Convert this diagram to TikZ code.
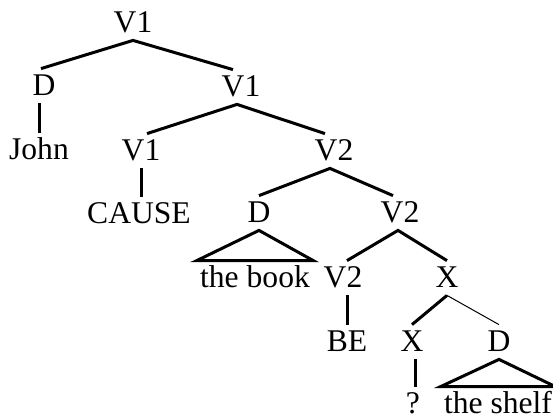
\documentclass[tikz,border=0pt]{standalone}
\usepackage{fontspec}
\setmainfont{Liberation Serif}
\begin{document}
\begin{tikzpicture}[x=0.5pt, y=-0.5pt,
    every node/.style={anchor=base, inner xsep=1.5pt, inner ysep=2.5pt,
      text height=10.5pt, text depth=1.5pt, font=\fontsize{15.8}{18}\selectfont},
    branch/.style={line width=1.5pt},
    thinbranch/.style={line width=0.5pt}]
  \useasboundingbox (0,0) rectangle (553,419);
  % Place the nodes
  \node (v1top) at (133,32) {V1};
  \node (d1) at (44,95) {D};
  \node (v1b) at (241,96) {V1};
  \node (john) at (39,159) {John};
  \node (v1c) at (141,160) {V1};
  \node (v2a) at (334,160) {V2};
  \node (cause) at (139,223) {CAUSE};
  \node (da) at (259,222) {D};
  \node (v2b) at (400,222) {V2};
  \node (book) at (255,287) {the book};
  \node (v2c) at (343,287) {V2};
  \node (xa) at (447,287) {X};
  \node (be) at (347,351) {BE};
  \node (xb) at (412,351) {X};
  \node (db) at (499,351) {D};
  \node (q) at (413,413) {?};
  \node (shelf) at (498,413) {the shelf};
  % Draw the branches
  \draw[branch] ([xshift=-1.5pt]d1.north) -- (v1top.south) -- ([xshift=-4pt]v1b.north);
  \draw[branch] (d1.south -| john.north) -- (john.north);
  \draw[branch] ([xshift=3pt]v1c.north) -- ([xshift=-2pt]v1b.south) -- ([xshift=-4.5pt]v2a.north);
  \draw[branch] (v1c.south) -- (v1c.south |- cause.north);
  \draw[branch] (da.north) -- ([xshift=-2pt]v2a.south) -- ([xshift=-3.5pt]v2b.north);
  \draw[branch] ([xshift=2pt]v2c.north) -- ([xshift=-1pt]v2b.south) -- (xa.north);
  \draw[branch] (v2c.south -| be.north) -- (be.north);
  \draw[branch] (xb.north) -- (xa.south);
  \draw[thinbranch] (xa.south) -- (db.north);
  \draw[branch] ([xshift=1.5pt]xb.south) -- ([xshift=1.5pt]xb.south |- q.north);
  % Draw the triangles
  \draw[branch] (da.south) -- (book.north west) -- (book.north east) -- cycle;
  \draw[branch] (db.south) -- (shelf.north west) -- (shelf.north east) -- cycle;
\end{tikzpicture}
\end{document}
